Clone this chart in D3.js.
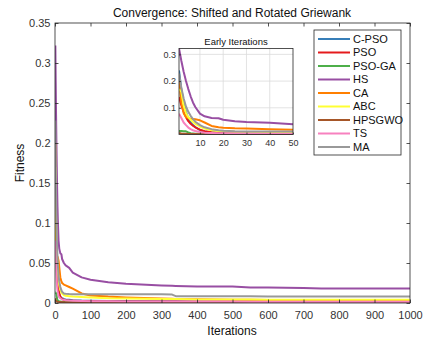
<!DOCTYPE html>
<html>
<head>
<meta charset="utf-8">
<script src="https://cdn.jsdelivr.net/npm/d3@7"></script>
<style>
  body { margin: 0; background: #fff; }
  text { font-family: "Liberation Sans", Arial, sans-serif; }
</style>
</head>
<body>
<svg id="chart" width="425" height="341"></svg>
<script>
// Iterations at which the best fitness of each algorithm is recorded
const iterations = [1,2,3,4,5,6,7,8,10,12,15,18,20,25,30,40,50,75,100,150,200,300,330,340,400,500,550,600,700,750,800,900,1000];

const cpso   = [0.240,0.170,0.120,0.085,0.058,0.045,0.035,0.028,0.016,0.011,0.008,0.0065,0.006,0.005,0.0045,0.004,0.0035,0.003,0.0028,0.0025,0.0024,0.0022,0.0022,0.0022,0.0021,0.002,0.002,0.002,0.0019,0.0019,0.0019,0.0018,0.0018];
const pso    = [0.140,0.110,0.085,0.065,0.050,0.040,0.033,0.027,0.018,0.012,0.008,0.006,0.005,0.004,0.0035,0.003,0.0028,0.0025,0.0023,0.002,0.0019,0.0018,0.0018,0.0018,0.0017,0.0017,0.0016,0.0016,0.0016,0.0015,0.0015,0.0015,0.0015];
const psoga  = [0.013,0.013,0.012,0.012,0.008,0.005,0.004,0.003,0.0025,0.002,0.0018,0.0016,0.0015,0.0014,0.0013,0.0012,0.0012,0.0011,0.0011,0.001,0.001,0.001,0.001,0.001,0.001,0.001,0.001,0.001,0.001,0.001,0.001,0.001,0.001];
const hs     = [0.322,0.276,0.235,0.200,0.170,0.143,0.120,0.103,0.078,0.068,0.062,0.061,0.055,0.050,0.047,0.044,0.038,0.032,0.029,0.026,0.024,0.022,0.0215,0.0213,0.0205,0.0205,0.0195,0.0193,0.0188,0.018,0.018,0.018,0.018];
const ca     = [0.200,0.120,0.080,0.065,0.061,0.059,0.058,0.057,0.053,0.045,0.032,0.027,0.025,0.023,0.022,0.020,0.018,0.012,0.0095,0.008,0.007,0.0055,0.0052,0.005,0.0046,0.0042,0.004,0.0038,0.0036,0.0035,0.0034,0.0032,0.003];
const abc    = [0.170,0.160,0.110,0.080,0.065,0.055,0.047,0.040,0.030,0.022,0.016,0.013,0.012,0.010,0.009,0.0085,0.008,0.0075,0.007,0.006,0.0055,0.005,0.005,0.005,0.0045,0.0045,0.0043,0.0042,0.0042,0.004,0.004,0.004,0.004];
const hpsgwo = [0.006,0.004,0.003,0.0025,0.002,0.0018,0.0016,0.0015,0.0014,0.0013,0.0012,0.0011,0.001,0.001,0.0009,0.0009,0.0008,0.0008,0.0008,0.0007,0.0007,0.0007,0.0007,0.0007,0.0007,0.0007,0.0007,0.0007,0.0007,0.0007,0.0007,0.0007,0.0007];
const ts     = [0.078,0.062,0.045,0.035,0.026,0.020,0.016,0.013,0.009,0.007,0.006,0.005,0.0045,0.004,0.0035,0.003,0.0028,0.0025,0.0023,0.0021,0.002,0.0019,0.0019,0.0019,0.0018,0.0018,0.0017,0.0017,0.0017,0.0016,0.0016,0.0016,0.0016];
const ma     = [0.228,0.175,0.135,0.105,0.085,0.070,0.058,0.048,0.035,0.027,0.020,0.016,0.014,0.012,0.0115,0.0112,0.011,0.011,0.011,0.011,0.011,0.0108,0.0105,0.0085,0.0084,0.0083,0.0083,0.0082,0.0082,0.0081,0.0081,0.008,0.008];

const seriesNames  = ["C-PSO","PSO","PSO-GA","HS","CA","ABC","HPSGWO","TS","MA"];
const seriesValues = [cpso, pso, psoga, hs, ca, abc, hpsgwo, ts, ma];
const seriesColors = ["#377eb8","#e41a1c","#4daf4a","#984ea3","#ff7f00","#ffff33","#a65628","#f781bf","#999999"];

const xTicks = [0,100,200,300,400,500,600,700,800,900,1000];
const yTicks = [0,0.05,0.1,0.15,0.2,0.25,0.3,0.35];
const insetXTicks = [10,20,30,40,50];
const insetYTicks = [0.1,0.2,0.3];

const axisColor = "#262626";
const labelColor = "#333";

const series = seriesNames.map((name, i) => ({
  name,
  color: seriesColors[i],
  points: iterations.map((it, j) => ({ it, v: seriesValues[i][j] }))
}));

const svg = d3.select("#chart");

// ---------- main axes ----------
const main = { left: 55, right: 410, top: 23, bottom: 303 };
const x = d3.scaleLinear().domain([0, 1000]).range([main.left, main.right]);
const y = d3.scaleLinear().domain([0, 0.35]).range([main.bottom, main.top]);

svg.append("defs").append("clipPath").attr("id", "mainClip")
  .append("rect").attr("x", main.left).attr("y", main.top)
  .attr("width", main.right - main.left).attr("height", main.bottom - main.top);

const line = d3.line().x(d => x(d.it)).y(d => y(d.v));
svg.append("g").attr("clip-path", "url(#mainClip)")
  .selectAll("path").data(series).join("path")
  .attr("d", d => line(d.points))
  .attr("fill", "none")
  .attr("stroke", d => d.color)
  .attr("stroke-width", 2)
  .attr("stroke-linejoin", "round");

function styleAxis(g, fontSize) {
  g.select(".domain").remove();
  g.selectAll(".tick line").attr("stroke", axisColor).attr("stroke-width", 0.8);
  g.selectAll(".tick text").attr("fill", labelColor).attr("font-size", fontSize)
    .attr("font-family", "'Liberation Sans', Arial, sans-serif");
}

const tickLen = 3.5;
svg.append("g").attr("transform", `translate(0,${main.bottom})`)
  .call(d3.axisBottom(x).tickValues(xTicks).tickSizeInner(-tickLen).tickSizeOuter(0).tickPadding(8)
    .tickFormat(d3.format("d")))
  .call(g => styleAxis(g, 11));
svg.append("g").attr("transform", `translate(0,${main.top})`)
  .call(d3.axisTop(x).tickValues(xTicks).tickSizeInner(-tickLen).tickSizeOuter(0).tickFormat(""))
  .call(g => styleAxis(g, 11));
svg.append("g").attr("transform", `translate(${main.left},0)`)
  .call(d3.axisLeft(y).tickValues(yTicks).tickSizeInner(-tickLen).tickSizeOuter(0).tickPadding(4.5)
    .tickFormat(d => d === 0 ? "0" : String(+d.toFixed(2))))
  .call(g => styleAxis(g, 11));
svg.append("g").attr("transform", `translate(${main.right},0)`)
  .call(d3.axisRight(y).tickValues(yTicks).tickSizeInner(-tickLen).tickSizeOuter(0).tickFormat(""))
  .call(g => styleAxis(g, 11));

svg.append("rect")
  .attr("x", main.left).attr("y", main.top)
  .attr("width", main.right - main.left).attr("height", main.bottom - main.top)
  .attr("fill", "none").attr("stroke", axisColor).attr("stroke-width", 0.8);

svg.append("text").attr("x", 232).attr("y", 17).attr("text-anchor", "middle")
  .attr("font-size", 12).attr("fill", "#111")
  .text("Convergence: Shifted and Rotated Griewank");
svg.append("text").attr("x", 232).attr("y", 335).attr("text-anchor", "middle")
  .attr("font-size", 12).attr("fill", "#111").text("Iterations");
svg.append("text").attr("transform", "translate(24,163) rotate(-90)").attr("text-anchor", "middle")
  .attr("font-size", 12).attr("fill", "#111").text("Fitness");

// ---------- inset: first 50 iterations ----------
const inset = { left: 179, right: 293, top: 48.5, bottom: 134.5 };
const earlyMax = d3.max(series, s => d3.max(s.points.filter(p => p.it <= 50), p => p.v));
const ix = d3.scaleLinear().domain([1, 50]).range([inset.left, inset.right]);
const iy = d3.scaleLinear().domain([0, earlyMax]).range([inset.bottom, inset.top]);

svg.append("rect")
  .attr("x", inset.left).attr("y", inset.top)
  .attr("width", inset.right - inset.left).attr("height", inset.bottom - inset.top)
  .attr("fill", "#fff");

const grid = svg.append("g");
grid.selectAll("line.vx").data(insetXTicks.filter(t => t < 50)).join("line")
  .attr("x1", d => ix(d)).attr("x2", d => ix(d))
  .attr("y1", inset.top).attr("y2", inset.bottom)
  .attr("stroke", "#dcdcdc").attr("stroke-width", 0.8);
grid.selectAll("line.hy").data(insetYTicks).join("line")
  .attr("x1", inset.left).attr("x2", inset.right)
  .attr("y1", d => iy(d)).attr("y2", d => iy(d))
  .attr("stroke", "#dcdcdc").attr("stroke-width", 0.8);

svg.select("defs").append("clipPath").attr("id", "insetClip")
  .append("rect").attr("x", inset.left).attr("y", inset.top)
  .attr("width", inset.right - inset.left).attr("height", inset.bottom - inset.top);

const iline = d3.line().x(d => ix(d.it)).y(d => iy(d.v));
svg.append("g").attr("clip-path", "url(#insetClip)")
  .selectAll("path").data(series).join("path")
  .attr("d", d => iline(d.points.filter(p => p.it <= 50)))
  .attr("fill", "none")
  .attr("stroke", d => d.color)
  .attr("stroke-width", 2)
  .attr("stroke-linejoin", "round");

const iTick = 2;
svg.append("g").attr("transform", `translate(0,${inset.bottom})`)
  .call(d3.axisBottom(ix).tickValues(insetXTicks).tickSizeInner(-iTick).tickSizeOuter(0).tickPadding(5))
  .call(g => styleAxis(g, 9));
svg.append("g").attr("transform", `translate(${inset.left},0)`)
  .call(d3.axisLeft(iy).tickValues(insetYTicks).tickSizeInner(-iTick).tickSizeOuter(0).tickPadding(3)
    .tickFormat(d3.format(".1f")))
  .call(g => styleAxis(g, 9));

svg.append("rect")
  .attr("x", inset.left).attr("y", inset.top)
  .attr("width", inset.right - inset.left).attr("height", inset.bottom - inset.top)
  .attr("fill", "none").attr("stroke", axisColor).attr("stroke-width", 0.8);

svg.append("text").attr("x", 236).attr("y", 44.5).attr("text-anchor", "middle")
  .attr("font-size", 9.5).attr("fill", "#111").text("Early Iterations");

// ---------- legend ----------
const legend = svg.append("g");
legend.append("rect").attr("x", 314).attr("y", 30).attr("width", 87).attr("height", 125)
  .attr("fill", "#fff").attr("stroke", axisColor).attr("stroke-width", 0.8);
const rowY = d3.scalePoint().domain(seriesNames).range([39, 147]);
const rows = legend.selectAll("g.row").data(series).join("g")
  .attr("transform", d => `translate(0,${rowY(d.name)})`);
rows.append("line").attr("x1", 318).attr("x2", 350)
  .attr("stroke", d => d.color).attr("stroke-width", 2);
rows.append("text").attr("x", 353).attr("y", 0).attr("dy", "0.35em")
  .attr("font-size", 11).attr("fill", "#111").text(d => d.name);
</script>
</body>
</html>
